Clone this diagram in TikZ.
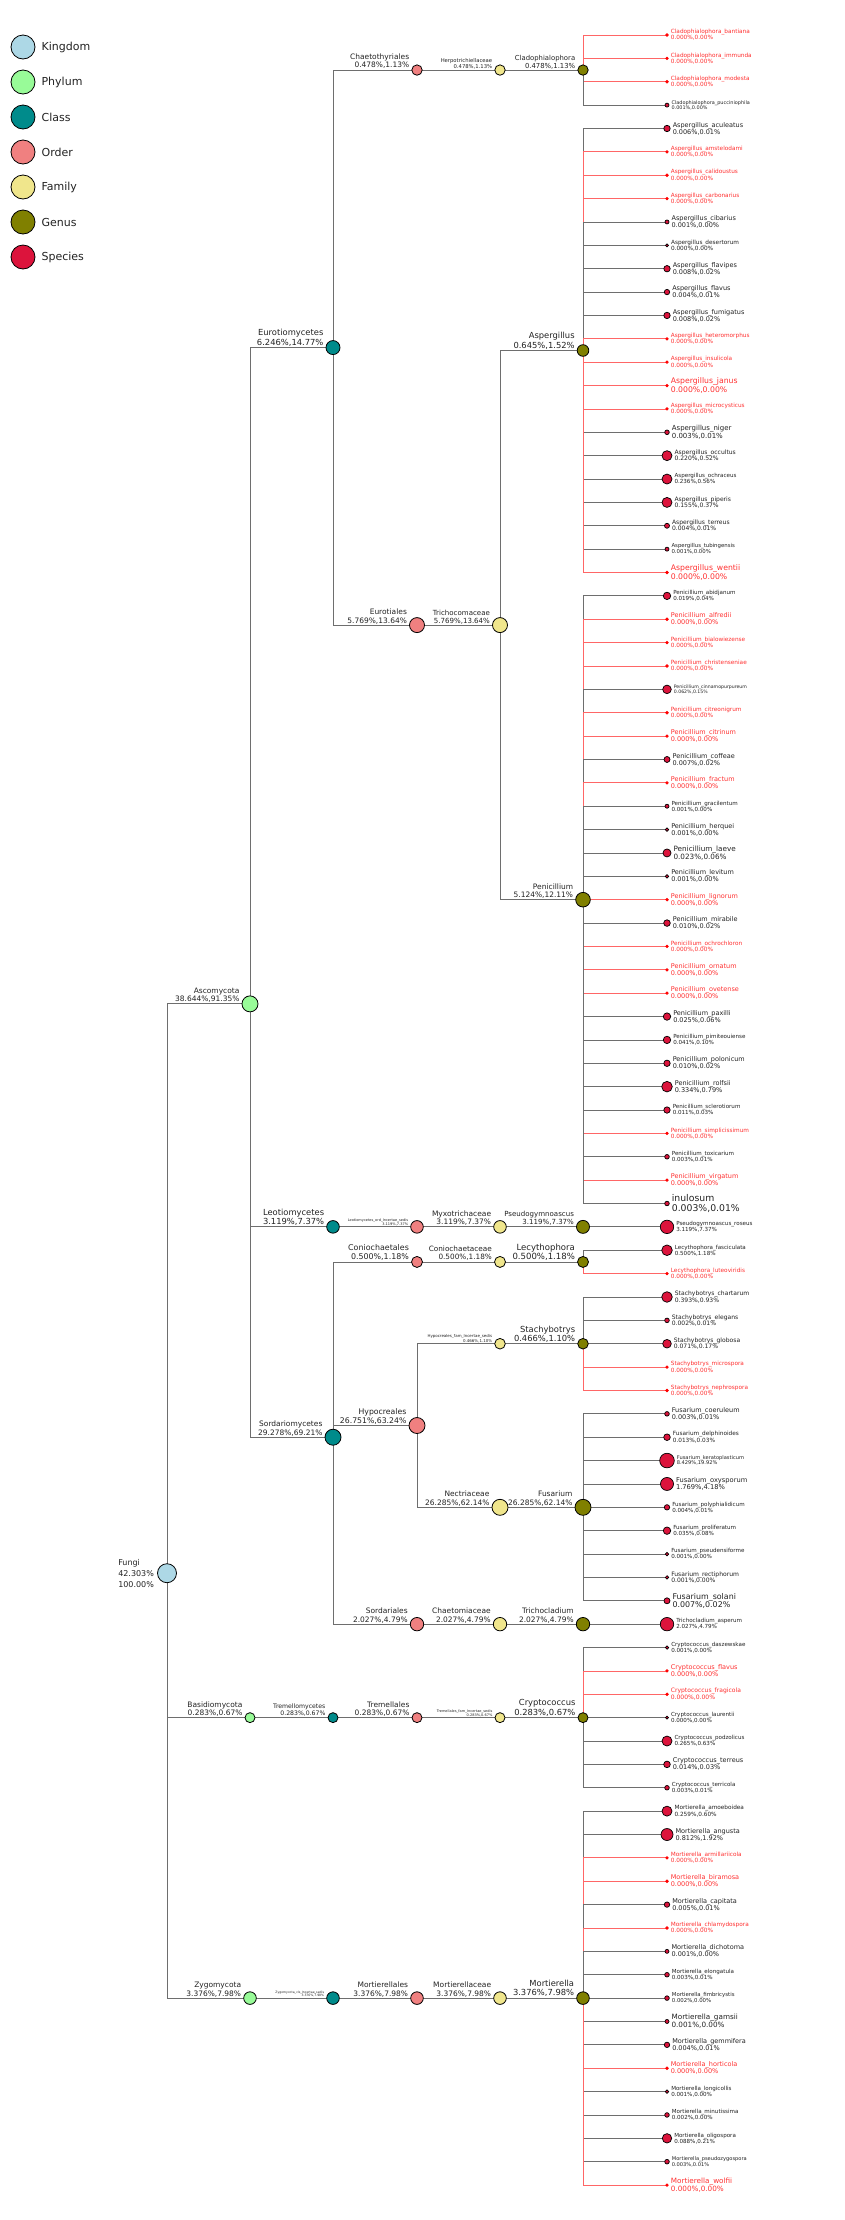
\documentclass[tikz,border=0pt]{standalone}
\usepackage{fontspec}
\setmainfont{DejaVu Sans}
\usepackage{tikz}
\usetikzlibrary{backgrounds}
\definecolor{kingdomc}{HTML}{ADD8E6}
\definecolor{phylumc}{HTML}{98FB98}
\definecolor{classc}{HTML}{008B8B}
\definecolor{orderc}{HTML}{F08080}
\definecolor{familyc}{HTML}{F0E68C}
\definecolor{genusc}{HTML}{808000}
\definecolor{speciesc}{HTML}{DC143C}
% colours for absent (zred) and present (black) species
\definecolor{tzred}{HTML}{FF3030}
\definecolor{tblack}{HTML}{222222}
\definecolor{lzred}{HTML}{FF6666}
\definecolor{lblack}{HTML}{6E6E6E}
\definecolor{fzred}{HTML}{FF0000}
\definecolor{fblack}{HTML}{DC143C}
\definecolor{dzred}{HTML}{FF0000}
\definecolor{dblack}{HTML}{000000}
\tikzstyle{taxon} = [circle, draw=black, line width=0.8pt, inner sep=0pt]
\tikzstyle{conn} = [draw=lblack, line width=0.8pt]
\tikzstyle{tlab} = [anchor=south east, align=right, inner sep=1pt, text=tblack]
\newcommand{\sy}[1]{35+23.37*#1}
% size scaled to the font, line skip kept
\newcommand{\fsz}[1]{\pgfmathsetmacro\fzz{#1*0.88}\fontsize{\fzz}{#1}\selectfont}
\newcommand{\fsp}[1]{\pgfmathsetmacro\fzz{#1*0.93}\fontsize{\fzz}{#1}\selectfont}

\begin{document}
\begin{tikzpicture}[x=1pt, y=-1pt, every node/.style={text=tblack}]
	\useasboundingbox (0,0) rectangle (845,2220);
	% legend
	\foreach \k/\col/\nm in {0/kingdomc/Kingdom, 1/phylumc/Phylum, 2/classc/Class,
		3/orderc/Order, 4/familyc/Family, 5/genusc/Genus, 6/speciesc/Species}{
		\node[taxon, fill=\col, minimum size=24] (leg\k) at (23,{47+35*\k}) {};
		\node[anchor=west, inner sep=0pt, font=\fsz{12.5}] at ([xshift=6pt]leg\k.east) {\nm};
	}
	% kingdom
	\node[taxon, fill=kingdomc, minimum size=19] (fungi) at (167,{\sy{65.819}}) {};
	\node[anchor=east, align=left, inner sep=0pt, font=\fontsize{8}{11}\selectfont]
		at ([xshift=-3pt]fungi.west) {Fungi\\42.303\%\\100.00\%};
	% phylum .. genus
	\foreach \n/\x/\k/\rad/\col/\nm/\pa/\pb/\fz in {
		asco/250/41.458/8/phylumc/Ascomycota/38.644/91.35/8.5,
		basid/250/72/5/phylumc/Basidiomycota/0.283/0.67/8.5,
		zygo/250/84/6.3/phylumc/Zygomycota/3.376/7.98/8.5,
		eurotio/333/13.375/7/classc/Eurotiomycetes/6.246/14.77/9.5,
		leotio/333/51/6.3/classc/Leotiomycetes/3.119/7.37/9.5,
		sordario/333/60/8/classc/Sordariomycetes/29.278/69.21/8.5,
		tremello/333/72/5/classc/Tremellomycetes/0.283/0.67/7,
		zygocls/333/84/6.3/classc/Zygomycota\_cls\_Incertae\_sedis/3.376/7.98/3.5,
		chaeto/417/1.5/5.2/orderc/Chaetothyriales/0.478/1.13/8.5,
		eurotiales/417/25.25/7.5/orderc/Eurotiales/5.769/13.64/8.5,
		leoord/417/51/6.3/orderc/Leotiomycetes\_ord\_Incertae\_sedis/3.119/7.37/4,
		conioch/417/52.5/5.5/orderc/Coniochaetales/0.500/1.18/9,
		hypocr/417/59.5/8/orderc/Hypocreales/26.751/63.24/8.8,
		sordales/417/68/6.7/orderc/Sordariales/2.027/4.79/8.5,
		tremales/417/72/5/orderc/Tremellales/0.283/0.67/8.5,
		mortales/417/84/6.3/orderc/Mortierellales/3.376/7.98/8.5,
		herpo/500/1.5/5.2/familyc/Herpotrichiellaceae/0.478/1.13/6,
		tricho/500/25.25/7.5/familyc/Trichocomaceae/5.769/13.64/8,
		myxo/500/51/6.3/familyc/Myxotrichaceae/3.119/7.37/8.5,
		coniofam/500/52.5/5.5/familyc/Coniochaetaceae/0.500/1.18/8.3,
		hypfam/500/56/5.3/familyc/Hypocreales\_fam\_Incertae\_sedis/0.466/1.10/4.5,
		nectria/500/63/8/familyc/Nectriaceae/26.285/62.14/8.5,
		chaetom/500/68/6.7/familyc/Chaetomiaceae/2.027/4.79/8.5,
		tremfam/500/72/5/familyc/Tremellales\_fam\_Incertae\_sedis/0.283/0.67/4,
		mortfam/500/84/6.3/familyc/Mortierellaceae/3.376/7.98/8.5,
		clado/583/1.5/5.2/genusc/Cladophialophora/0.478/1.13/7.8,
		asp/583/13.5/5.8/genusc/Aspergillus/0.645/1.52/9.5,
		pen/583/37/7.3/genusc/Penicillium/5.124/12.11/8.5,
		pseudo/583/51/6.5/genusc/Pseudogymnoascus/3.119/7.37/8,
		lecy/583/52.5/5.5/genusc/Lecythophora/0.500/1.18/9.7,
		stachy/583/56/5.3/genusc/Stachybotrys/0.466/1.10/9.5,
		fus/583/63/8/genusc/Fusarium/26.285/62.14/8.5,
		trichocl/583/68/6.7/genusc/Trichocladium/2.027/4.79/8.5,
		crypto/583/72/5/genusc/Cryptococcus/0.283/0.67/9.5,
		mort/583/84/6.3/genusc/Mortierella/3.376/7.98/9.5}{
		\node[taxon, fill=\col, minimum size={2*\rad}] (\n) at (\x,{\sy{\k}}) {};
		\node[tlab, font=\fsz{\fz}] at ([xshift=-1pt]\n.west) {\nm\\\pa\%,\pb\%};
	}
	\begin{scope}[on background layer]
		\foreach \a/\b in {fungi/asco, fungi/basid, fungi/zygo, asco/eurotio, asco/leotio,
			asco/sordario, eurotio/chaeto, eurotio/eurotiales, chaeto/herpo, herpo/clado,
			eurotiales/tricho, tricho/asp, tricho/pen, leotio/leoord, leoord/myxo, myxo/pseudo,
			sordario/conioch, sordario/hypocr, sordario/sordales, conioch/coniofam, coniofam/lecy,
			hypocr/hypfam, hypocr/nectria, hypfam/stachy, nectria/fus, sordales/chaetom,
			chaetom/trichocl, basid/tremello, tremello/tremales, tremales/tremfam, tremfam/crypto,
			zygo/zygocls, zygocls/mortales, mortales/mortfam, mortfam/mort}
			\draw[conn] (\a.center) |- (\b.center);
	\end{scope}
	% species
	\foreach \i/\gen/\nm/\pa/\pb/\rad/\fz/\tc in {
		0/clado/Cladophialophora\_bantiana/0.000/0.00/1.3/6.2/zred,
		1/clado/Cladophialophora\_immunda/0.000/0.00/1.3/6.2/zred,
		2/clado/Cladophialophora\_modesta/0.000/0.00/1.3/6.2/zred,
		3/clado/Cladophialophora\_pucciniophila/0.001/0.00/2/5.3/black,
		4/asp/Aspergillus\_aculeatus/0.006/0.01/3.2/7/black,
		5/asp/Aspergillus\_amstelodami/0.000/0.00/1.3/6.2/zred,
		6/asp/Aspergillus\_calidoustus/0.000/0.00/1.3/6.2/zred,
		7/asp/Aspergillus\_carbonarius/0.000/0.00/1.3/6.2/zred,
		8/asp/Aspergillus\_cibarius/0.001/0.00/2/7/black,
		9/asp/Aspergillus\_desertorum/0.000/0.00/1.5/6.2/black,
		10/asp/Aspergillus\_flavipes/0.008/0.02/3.2/7/black,
		11/asp/Aspergillus\_flavus/0.004/0.01/2.7/7/black,
		12/asp/Aspergillus\_fumigatus/0.008/0.02/3.2/7/black,
		13/asp/Aspergillus\_heteromorphus/0.000/0.00/1.3/6.2/zred,
		14/asp/Aspergillus\_insulicola/0.000/0.00/1.3/6.2/zred,
		15/asp/Aspergillus\_janus/0.000/0.00/1.3/8.3/zred,
		16/asp/Aspergillus\_microcysticus/0.000/0.00/1.3/6.2/zred,
		17/asp/Aspergillus\_niger/0.003/0.01/2.3/7.5/black,
		18/asp/Aspergillus\_occultus/0.220/0.52/5/6.5/black,
		19/asp/Aspergillus\_ochraceus/0.236/0.56/5/6/black,
		20/asp/Aspergillus\_piperis/0.155/0.37/5/6.5/black,
		21/asp/Aspergillus\_terreus/0.004/0.01/2.5/6.5/black,
		22/asp/Aspergillus\_tubingensis/0.001/0.00/2/5.8/black,
		23/asp/Aspergillus\_wentii/0.000/0.00/1.3/8.3/zred,
		24/pen/Penicillium\_abidjanum/0.019/0.04/3.7/6/black,
		25/pen/Penicillium\_alfredii/0.000/0.00/1.3/7/zred,
		26/pen/Penicillium\_bialowiezense/0.000/0.00/1.3/6.2/zred,
		27/pen/Penicillium\_christenseniae/0.000/0.00/1.3/6.2/zred,
		28/pen/Penicillium\_cinnamopurpureum/0.062/0.15/4.3/5/black,
		29/pen/Penicillium\_citreonigrum/0.000/0.00/1.3/6.2/zred,
		30/pen/Penicillium\_citrinum/0.000/0.00/1.3/7/zred,
		31/pen/Penicillium\_coffeae/0.007/0.02/3/7/black,
		32/pen/Penicillium\_fractum/0.000/0.00/1.3/7/zred,
		33/pen/Penicillium\_gracilentum/0.001/0.00/2/6/black,
		34/pen/Penicillium\_herquei/0.001/0.00/1.7/7/black,
		35/pen/Penicillium\_laeve/0.023/0.06/4/7.8/black,
		36/pen/Penicillium\_levitum/0.001/0.00/1.7/7/black,
		37/pen/Penicillium\_lignorum/0.000/0.00/1.3/7/zred,
		38/pen/Penicillium\_mirabile/0.010/0.02/3.3/7/black,
		39/pen/Penicillium\_ochrochloron/0.000/0.00/1.3/6.2/zred,
		40/pen/Penicillium\_ornatum/0.000/0.00/1.3/7/zred,
		41/pen/Penicillium\_ovetense/0.000/0.00/1.3/7/zred,
		42/pen/Penicillium\_paxilli/0.025/0.06/3.7/7/black,
		43/pen/Penicillium\_pimiteouiense/0.041/0.10/3.7/6/black,
		44/pen/Penicillium\_polonicum/0.010/0.02/3.2/7/black,
		45/pen/Penicillium\_rolfsii/0.334/0.79/5.3/7/black,
		46/pen/Penicillium\_sclerotiorum/0.011/0.03/3.2/6/black,
		47/pen/Penicillium\_simplicissimum/0.000/0.00/1.3/6.2/zred,
		48/pen/Penicillium\_toxicarium/0.003/0.01/2.3/6/black,
		49/pen/Penicillium\_virgatum/0.000/0.00/1.3/7/zred,
		50/pen/inulosum/0.003/0.01/2.3/10/black,
		51/pseudo/Pseudogymnoascus\_roseus/3.119/7.37/6.7/6/black,
		52/lecy/Lecythophora\_fasciculata/0.500/1.18/5.3/6/black,
		53/lecy/Lecythophora\_luteoviridis/0.000/0.00/1.3/6.2/zred,
		54/stachy/Stachybotrys\_chartarum/0.393/0.93/5.3/6.5/black,
		55/stachy/Stachybotrys\_elegans/0.002/0.01/2.3/6.5/black,
		56/stachy/Stachybotrys\_globosa/0.071/0.17/4.3/6.5/black,
		57/stachy/Stachybotrys\_microspora/0.000/0.00/1.3/6.2/zred,
		58/stachy/Stachybotrys\_nephrospora/0.000/0.00/1.3/6.2/zred,
		59/fus/Fusarium\_coeruleum/0.003/0.01/2.3/7/black,
		60/fus/Fusarium\_delphinoides/0.013/0.03/3.3/6.2/black,
		61/fus/Fusarium\_keratoplasticum/8.429/19.92/7.3/5.5/black,
		62/fus/Fusarium\_oxysporum/1.769/4.18/6.5/7.2/black,
		63/fus/Fusarium\_polyphialidicum/0.004/0.01/2.7/6/black,
		64/fus/Fusarium\_proliferatum/0.035/0.08/3.7/6/black,
		65/fus/Fusarium\_pseudensiforme/0.001/0.00/1.7/6/black,
		66/fus/Fusarium\_rectiphorum/0.001/0.00/1.7/6.5/black,
		67/fus/Fusarium\_solani/0.007/0.02/3/8.5/black,
		68/trichocl/Trichocladium\_asperum/2.027/4.79/6.7/6/black,
		69/crypto/Cryptococcus\_daszewskae/0.001/0.00/1.7/6/black,
		70/crypto/Cryptococcus\_flavus/0.000/0.00/1.3/7/zred,
		71/crypto/Cryptococcus\_fragicola/0.000/0.00/1.3/6.5/zred,
		72/crypto/Cryptococcus\_laurentii/0.000/0.00/1.5/6/black,
		73/crypto/Cryptococcus\_podzolicus/0.265/0.63/5/6/black,
		74/crypto/Cryptococcus\_terreus/0.014/0.03/3.3/7/black,
		75/crypto/Cryptococcus\_terricola/0.003/0.01/2.3/6/black,
		76/mort/Mortierella\_amoeboidea/0.259/0.60/5/6.2/black,
		77/mort/Mortierella\_angusta/0.812/1.92/6/7/black,
		78/mort/Mortierella\_armillariicola/0.000/0.00/1.3/6.2/zred,
		79/mort/Mortierella\_biramosa/0.000/0.00/1.3/7/zred,
		80/mort/Mortierella\_capitata/0.005/0.01/2.7/7/black,
		81/mort/Mortierella\_chlamydospora/0.000/0.00/1.3/6.2/zred,
		82/mort/Mortierella\_dichotoma/0.001/0.00/2/7/black,
		83/mort/Mortierella\_elongatula/0.003/0.01/2.3/6/black,
		84/mort/Mortierella\_fimbricystis/0.002/0.00/2.3/5.8/black,
		85/mort/Mortierella\_gamsii/0.001/0.00/2/7.8/black,
		86/mort/Mortierella\_gemmifera/0.004/0.01/2.7/7/black,
		87/mort/Mortierella\_horticola/0.000/0.00/1.3/7/zred,
		88/mort/Mortierella\_longicollis/0.001/0.00/1.7/6/black,
		89/mort/Mortierella\_minutissima/0.002/0.00/2.3/6/black,
		90/mort/Mortierella\_oligospora/0.088/0.21/4.7/6/black,
		91/mort/Mortierella\_pseudozygospora/0.003/0.01/2.3/5.5/black,
		92/mort/Mortierella\_wolfii/0.000/0.00/1.3/7.8/zred}{
		\node[circle, inner sep=0pt, line width=0.7pt, minimum size={2*\rad},
			fill=f\tc, draw=d\tc] (sp\i) at (667,{\sy{\i}}) {};
		\node[anchor=west, align=left, inner sep=0pt, text=t\tc, font=\fsp{\fz}]
			at ([xshift=2pt]sp\i.east) {\nm\\\pa\%,\pb\%};
		\begin{scope}[on background layer]
			\draw[line width=0.8pt, draw=l\tc] (\gen.center) |- (sp\i.center);
		\end{scope}
	}
\end{tikzpicture}
\end{document}
